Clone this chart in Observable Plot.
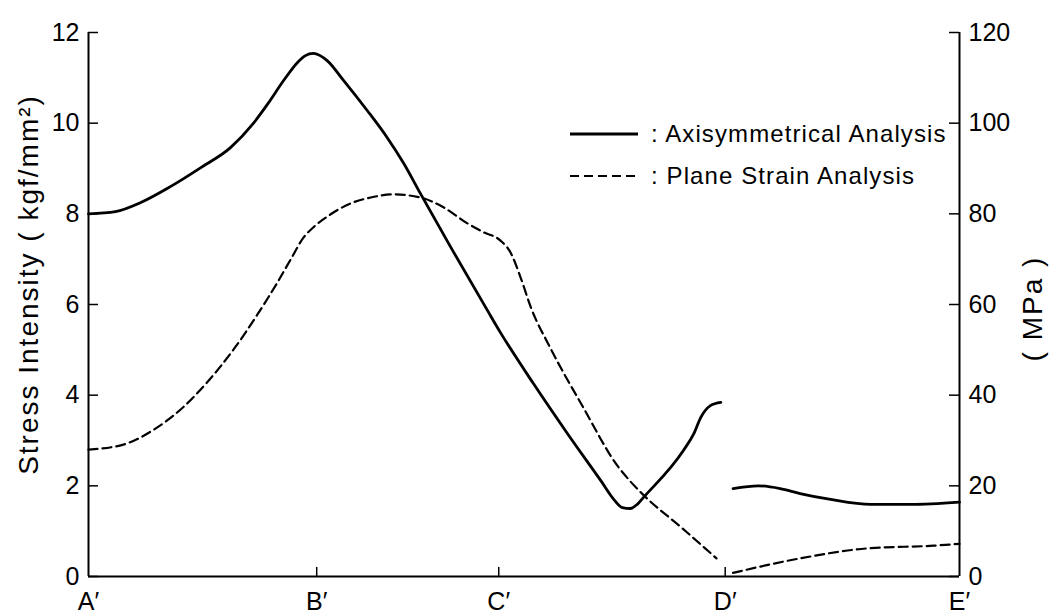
<!DOCTYPE html>
<html>
<head>
<meta charset="utf-8">
<script src="https://cdn.jsdelivr.net/npm/d3@7"></script>
<script src="https://cdn.jsdelivr.net/npm/@observablehq/plot@0.6"></script>
<style>
  html, body { margin: 0; padding: 0; background: #fff; }
  #wrap { position: relative; width: 1054px; height: 615px; font-family: "Liberation Sans", Arial, sans-serif; }
  #legend { position: absolute; left: 570px; top: 113px; font-size: 24px; color: #000; }
  .row { display: flex; align-items: center; height: 42px; }
  .row svg { width: 70px; height: 10px; margin-right: 11px; }
  .row span { letter-spacing: 1.1px; white-space: nowrap; }
</style>
</head>
<body>
<div id="wrap"></div>
<script>
// Section positions along the path (A'..E')
const sectionLabels = ["A′", "B′", "C′", "D′", "E′"];
const sectionPos = [0, 26.2, 47.1, 73.1, 100];

// Left axis ticks (kgf/mm²); right axis shows MPa
const yTicks = [0, 2, 4, 6, 8, 10, 12];
const mpaTicks = [0, 20, 40, 60, 80, 100, 120];

// Axisymmetrical analysis (solid), two segments
const axiSeg1X = [0, 3.1, 6.0, 9.4, 12.9, 16.3, 18.9, 20.6, 22.4, 24.0, 24.9, 25.8, 26.6, 27.4, 29.3, 32.0, 34.3, 36.2, 38.1, 41.6, 45.8, 47.3, 51.1, 55.0, 58.8, 60.4, 61.3, 62.2, 63.0, 63.7, 68.3, 69.5, 70.3, 71.4, 72.6];
const axiSeg1Y = [8.0, 8.05, 8.25, 8.6, 9.02, 9.46, 9.99, 10.43, 10.94, 11.34, 11.49, 11.54, 11.49, 11.38, 10.94, 10.28, 9.68, 9.11, 8.45, 7.26, 5.87, 5.38, 4.25, 3.15, 2.12, 1.68, 1.52, 1.50, 1.59, 1.74, 2.78, 3.15, 3.51, 3.77, 3.84];
const axiSeg2X = [74.0, 76.9, 79.4, 81.7, 85.2, 89.8, 94.4, 100];
const axiSeg2Y = [1.94, 2.0, 1.94, 1.83, 1.70, 1.59, 1.59, 1.64];

// Plane strain analysis (dashed), two segments
const planeSeg1X = [0, 4.0, 7.9, 10.9, 13.7, 16.7, 19.4, 21.7, 23.2, 24.7, 25.8, 27.8, 30.1, 32.4, 35.0, 38.1, 40.8, 43.5, 45.4, 47.3, 48.5, 49.6, 50.8, 53.0, 56.8, 60.7, 62.2, 63.7, 68.2, 72.1];
const planeSeg1Y = [2.80, 2.91, 3.29, 3.74, 4.30, 5.02, 5.78, 6.49, 6.99, 7.48, 7.70, 7.99, 8.23, 8.36, 8.43, 8.36, 8.14, 7.79, 7.59, 7.41, 7.13, 6.60, 5.93, 5.05, 3.73, 2.45, 2.10, 1.80, 1.06, 0.40];
const planeSeg2X = [74.0, 81.7, 89.4, 97.0, 100];
const planeSeg2Y = [0.08, 0.40, 0.62, 0.68, 0.72];

const seriesNames = ["Axisymmetrical Analysis", "Plane Strain Analysis"];
const yTitle = "Stress Intensity ( kgf/mm²)";
const y2Title = "( MPa )";

function rows(xs, ys, seg) { return xs.map((x, i) => ({x, y: ys[i], seg})); }
const axi = [...rows(axiSeg1X, axiSeg1Y, 1), ...rows(axiSeg2X, axiSeg2Y, 2)];
const plane = [...rows(planeSeg1X, planeSeg1Y, 1), ...rows(planeSeg2X, planeSeg2Y, 2)];

const xMin = 0, xMax = 100;
const tickLenX = 1.15;  // inward tick length in x units
const tickLenY = 0.2;   // inward tick length in y units
const font = "Liberation Sans, Arial, sans-serif";

const chart = Plot.plot({
  width: 1054,
  height: 615,
  marginLeft: 88,
  marginRight: 95,
  marginTop: 32,
  marginBottom: 39,
  style: {fontFamily: font, fontSize: "25px", background: "#fff", color: "#000", overflow: "visible"},
  x: {domain: [xMin, xMax], axis: null},
  y: {domain: [0, 12], axis: null},
  marks: [
    Plot.ruleY([0], {stroke: "#000", strokeWidth: 2}),
    Plot.ruleX([xMin, xMax], {stroke: "#000", strokeWidth: 2}),
    Plot.ruleY(yTicks, {y: d => d, x1: xMin, x2: xMin + tickLenX, stroke: "#000", strokeWidth: 1.5}),
    Plot.ruleY(yTicks, {y: d => d, x1: xMax - tickLenX, x2: xMax, stroke: "#000", strokeWidth: 1.5}),
    Plot.ruleX(sectionPos.slice(1, 4), {x: d => d, y1: 0, y2: tickLenY, stroke: "#000", strokeWidth: 1.5}),
    Plot.axisY(yTicks, {anchor: "left", label: null, tickSize: 0, tickPadding: 9, fontSize: 25}),
    Plot.axisY(yTicks, {anchor: "right", label: null, tickSize: 0, tickPadding: 9, fontSize: 25, tickFormat: (d, i) => mpaTicks[i]}),
    Plot.axisX(sectionPos, {anchor: "bottom", label: null, tickSize: 0, tickPadding: 16, fontSize: 25, tickFormat: (d, i) => sectionLabels[i]}),
    Plot.line(axi, {x: "x", y: "y", z: "seg", curve: "monotone-x", stroke: "#000", strokeWidth: 2.8}),
    Plot.line(plane, {x: "x", y: "y", z: "seg", curve: "monotone-x", stroke: "#000", strokeWidth: 2.2, strokeDasharray: "9,5"}),
    Plot.text([yTitle], {frameAnchor: "left", textAnchor: "middle", dx: -59, dy: -20, rotate: -90, fontSize: 28, text: d => d, fill: "#000"}),
    Plot.text([y2Title], {frameAnchor: "right", textAnchor: "middle", dx: 74, dy: 4, rotate: -90, fontSize: 28, text: d => d, fill: "#000"})
  ]
});

d3.select(chart).selectAll("text").filter(function() {
  const t = this.textContent;
  return t === yTitle || t === y2Title;
}).attr("letter-spacing", "2px");

const wrap = document.getElementById("wrap");
wrap.appendChild(chart);

const legend = document.createElement("div");
legend.id = "legend";
const dashes = [null, "9,5"];
const widths = [2.8, 2.2];
seriesNames.forEach((name, i) => {
  const row = document.createElement("div");
  row.className = "row";
  row.innerHTML = `<svg viewBox="0 0 70 10"><line x1="0" y1="5" x2="68" y2="5" stroke="#000" stroke-width="${widths[i]}" ${dashes[i] ? `stroke-dasharray="${dashes[i]}"` : ""}/></svg><span>: ${name}</span>`;
  legend.appendChild(row);
});
wrap.appendChild(legend);
</script>
</body>
</html>
